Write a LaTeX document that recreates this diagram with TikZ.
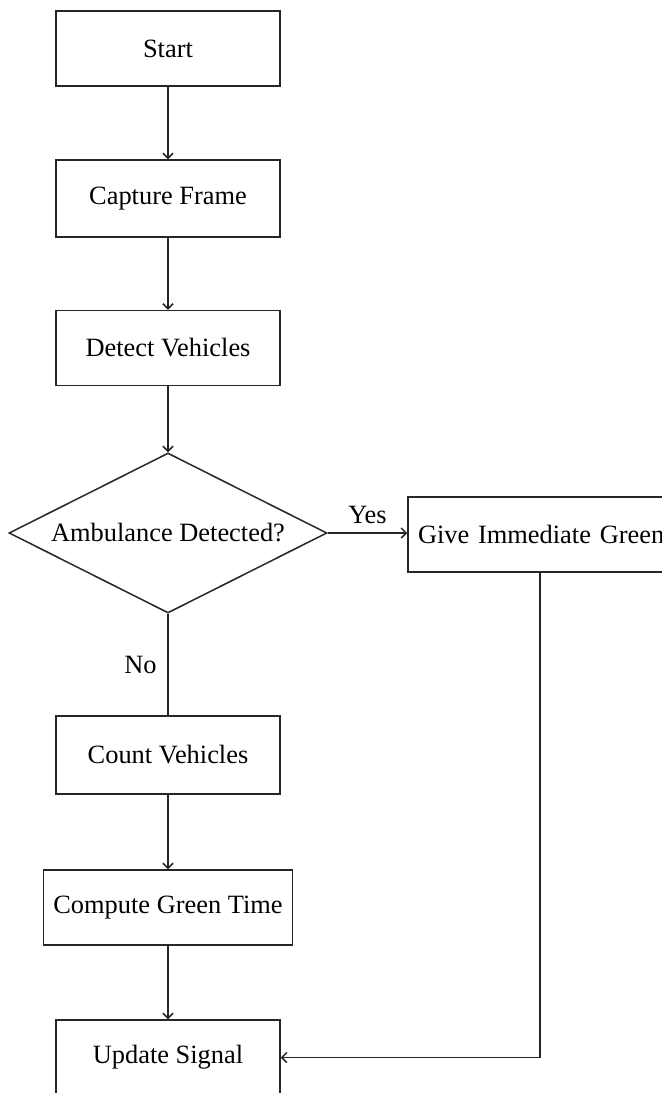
\documentclass[tikz,border=0pt]{standalone}
\usepackage{fontspec}
\setmainfont{Liberation Serif}
\usetikzlibrary{shapes.geometric,arrows.meta}
\begin{document}
\begin{tikzpicture}[x=0.5pt,y=-0.5pt,
  every node/.style={font=\fontsize{13.2}{15}\selectfont, text=black},
  box/.style={draw=black!85, line width=0.75pt, minimum width=112pt, minimum height=37.5pt, inner sep=0pt},
  decision/.style={draw=black!85, line width=0.75pt, shape=diamond, aspect=2, minimum width=159pt, minimum height=80pt, inner sep=0pt},
  conn/.style={draw=black!85, line width=0.75pt},
  arr/.style={conn, -{Straight Barb[length=2.5pt,width=5pt]}}
]
\fill[white] (0,0) rectangle (662,1093);
\clip (0,0) rectangle (662,1093);
\node[box] (start) at (168,48.5) {Start};
\node[box, minimum height=38.5pt] (capture) at (168,198.5) {Capture Frame};
\node[box] (detect) at (168,348) {Detect Vehicles};
\node[decision] (dec) at (168,533) {Ambulance Detected?};
\node[box, minimum width=146pt, text width=136pt, align=left, inner xsep=5pt] (give) at (554,534.5) {Give Immediate Green};
\node[box, minimum height=39pt] (count) at (168,755) {Count Vehicles};
\node[box, minimum width=124.5pt] (compute) at (168,907.5) {Compute Green Time};
\node[box] (update) at (168,1057.5) {Update Signal};
\coordinate (turn) at (540,1057.5);
\draw[arr] (start) -- (capture);
\draw[arr] (capture) -- (detect);
\draw[arr] (detect.south) -- (dec.north);
\draw[arr] (dec.east) -- node[above, yshift=1pt] (yes) {Yes} (give.west |- dec.east);
\draw[conn] (dec.south) -- node[left, xshift=-2pt] (no) {No} (count.north);
\draw[arr] (count) -- (compute);
\draw[arr] (compute) -- (update);
\draw[arr] (turn |- give.south) -- (turn) -- (update.east);
\end{tikzpicture}
\end{document}
